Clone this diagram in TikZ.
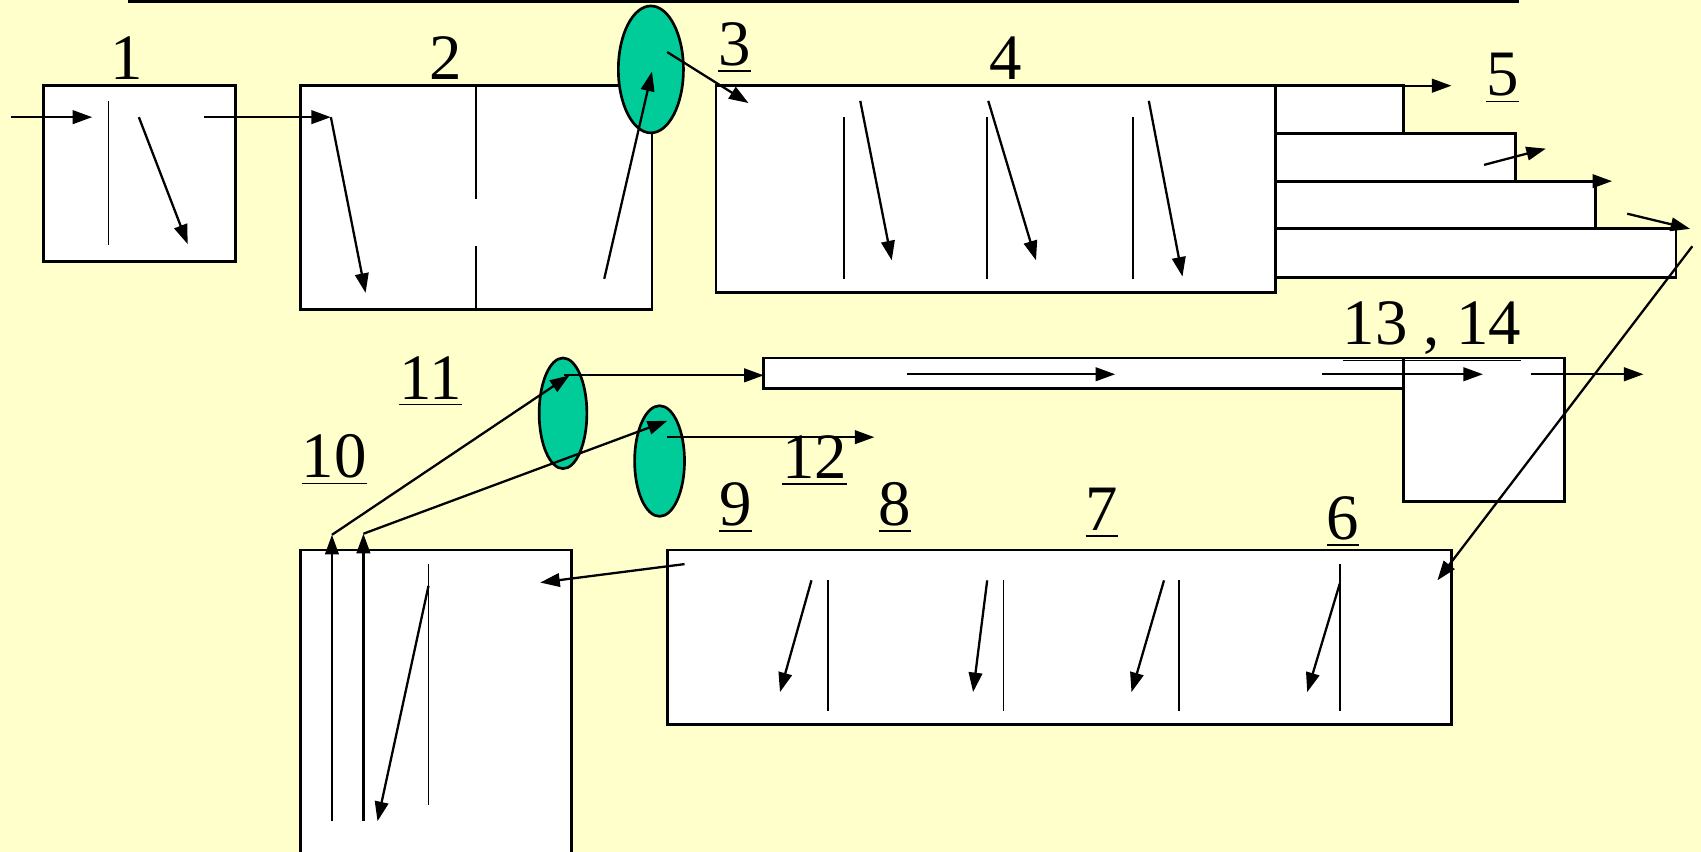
\documentclass[tikz,border=0pt]{standalone}
\usepackage{fontspec}
\setmainfont{Liberation Serif}
\usetikzlibrary{arrows.meta,shapes.geometric}
\definecolor{bgyellow}{HTML}{FFFFCC}
\definecolor{tankgreen}{HTML}{00CC99}
\tikzset{
  box/.style={draw=black, fill=white, line width=0.75pt},
  thin/.style={line width=0.5pt},
  arr/.style={line width=0.6pt, -{Triangle[length=1.8mm, width=1.25mm]}},
  tank/.style={draw=black, fill=tankgreen, line width=0.7pt, ellipse, inner sep=0pt},
  num/.style={anchor=base, inner sep=0pt, font=\fontsize{17}{20}\selectfont}
}
\begin{document}
\begin{tikzpicture}[x=0.1mm, y=-0.1mm]
\useasboundingbox (0,0) rectangle (1568,785);
\fill[bgyellow] (0,0) rectangle (1568,785);
% top rule
\draw[line width=1.1pt] (118,1) -- (1400,1);

% ---- box 1
\draw[box] (40,79) rectangle (217,241);
\draw[thin] (100,93) -- (100,226);
\coordinate (in1) at (10,108);
\coordinate (b1in) at (85,108);
\draw[arr] (in1) -- (b1in);
\draw[arr] (128,108) -- (173,225);
\node[num] (l1) at (117,73) {\underline{1}};

% ---- box 2
\draw[box] (277,79) rectangle (601,285);
\draw[thin] (439,79) -- (439,183);
\draw[thin] (439,227) -- (439,285);
\coordinate (b2in) at (305,108);
\draw[arr] (188,108) -- (b2in);
\draw[arr] (b2in) -- (337,270);
\node[num] (l2) at (411,73) {\underline{2}};

% ---- box 4
\draw[box] (660,79) rectangle (1176,270);
\foreach \x in {778,910,1044} \draw[thin] (\x,108) -- (\x,257);
\draw[arr] (793,93) -- (822,240);
\draw[arr] (911,93) -- (955,240);
\draw[arr] (1059,93) -- (1090,255);
\node[num] (l4) at (927,73) {\underline{4}};

% ---- tank 3
\node[tank, minimum width=6mm, minimum height=11.7mm] (t3) at (600,64) {};
\draw[arr] (557,257) -- (601,66);
\draw[arr] (615,48) -- (690,95);
\node[num] (l3) at (677,60) {\underline{3}};

% ---- stepped outlets 5
\draw[box] (1176,211) rectangle (1545,256);
\draw[box] (1176,167) rectangle (1471,211);
\draw[box] (1176,123) rectangle (1397,167);
\draw[box] (1176,79) rectangle (1294,123);
\draw[arr] (1294,79) -- (1338,79);
\draw[arr] (1368,152) -- (1425,137);
\draw[arr] (1471,167) -- (1486,167);
\draw[arr] (1500,197) -- (1558,211);
\node[num] (l5) at (1385,88) {\underline{5}};

% ---- box 13,14
\draw[box] (704,330) rectangle (1294,358);
\draw[box] (1294,330) rectangle (1442,462);
\draw[arr] (836,345) -- (1028,345);
\draw[arr] (1219,345) -- (1367,345);
\draw[arr] (1411,345) -- (1515,345);
\node[num] (l1314) at (1320,318) {\underline{13 , 14}};

% ---- box 6-9
\draw[box] (615,507) rectangle (1338,668);
\draw[arr] (748,535) -- (719,638);
\draw[thin] (763,535) -- (763,655);
\draw[arr] (910,535) -- (897,638);
\draw[thin] (925,535) -- (925,655);
\draw[arr] (1073,535) -- (1043,638);
\draw[thin] (1087,535) -- (1087,655);
\draw[thin] (1235,520) -- (1235,655);
\draw[arr] (1235,538) -- (1205,638);
\draw[arr] (1560,227) -- (1325,535);
\node[num] (l6) at (1238,497) {\underline{6}};
\node[num] (l7) at (1016,489) {\underline{7}};
\node[num] (l8) at (825,484) {\underline{8}};
\node[num] (l9) at (678,484) {\underline{9}};

% ---- box 10
\draw[box] (277,507) rectangle (527,800);
\draw[thin] (395,520) -- (395,742);
\draw[arr] (395,540) -- (348,757);
\draw[arr] (631,520) -- (498,537);
\draw[arr] (306,757) -- (306,493);
\draw[arr] (335,757) -- (335,492);
\node[num] (l10) at (308,440) {\underline{10}};

% ---- tanks 11 and 12
\node[tank, minimum width=4.4mm, minimum height=10.2mm] (t11) at (519,381) {};
\node[tank, minimum width=4.6mm, minimum height=10.2mm] (t12) at (608,425) {};
\draw[arr] (306,493) -- (525,346);
\draw[arr] (335,492) -- (615,388);
\draw[arr] (520,346) -- (704,346);
\draw[arr] (615,403) -- (806,403);
\node[num] (l11) at (397,368) {\underline{11}};
\node[num] (l12) at (751,441) {\underline{12}};
\end{tikzpicture}
\end{document}
